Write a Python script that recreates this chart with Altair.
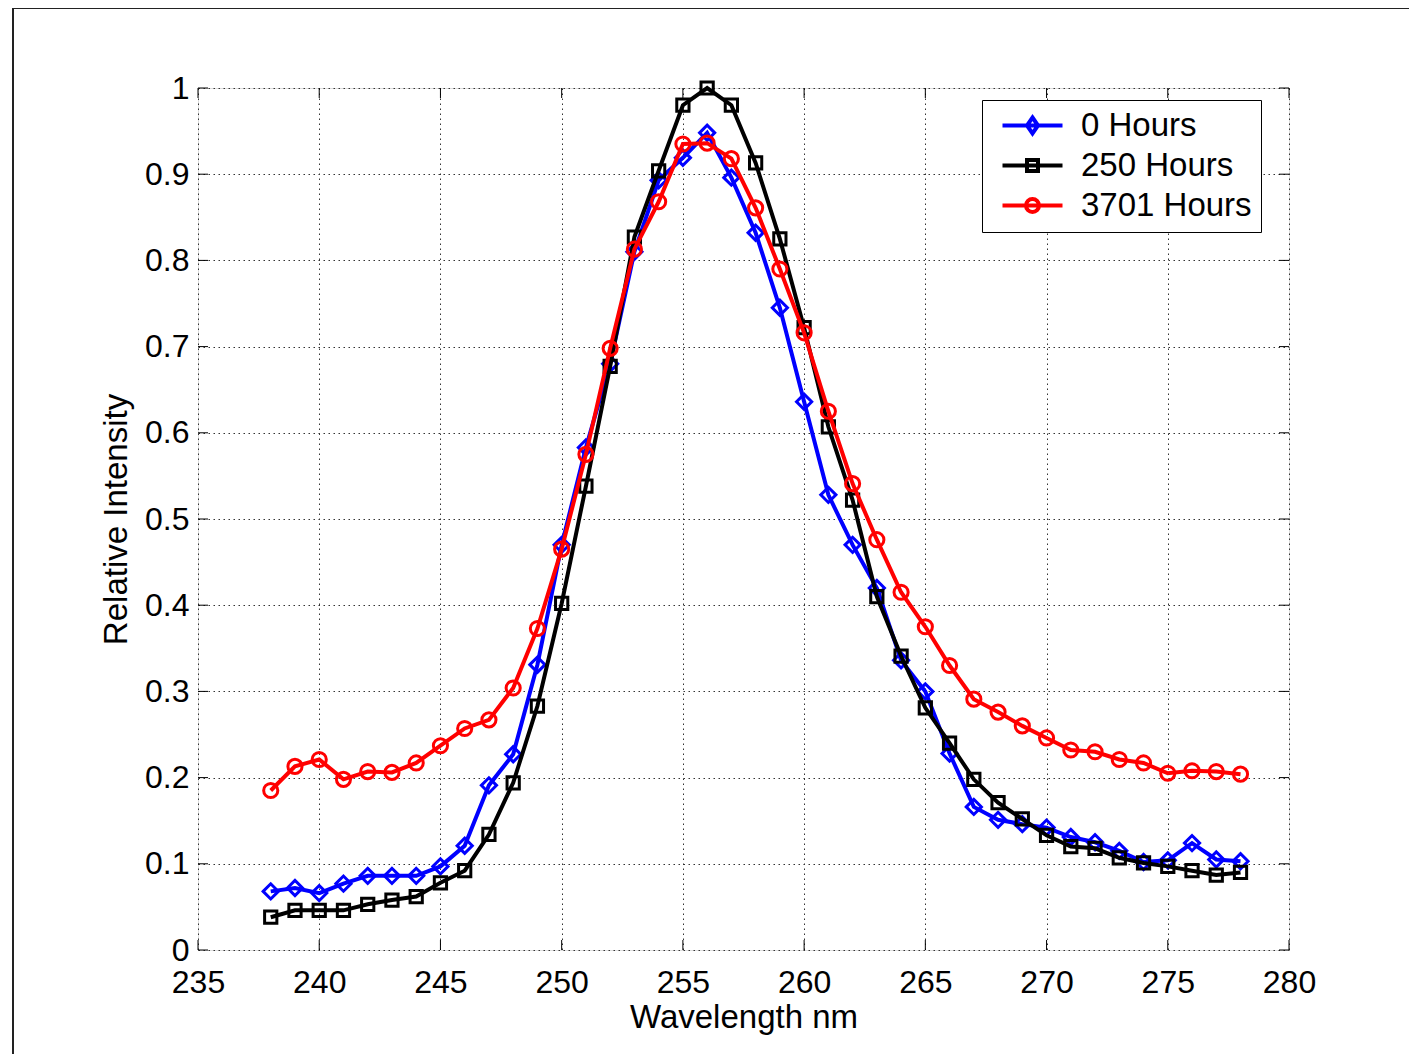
import altair as alt
import pandas as pd

wavelength = [238, 239, 240, 241, 242, 243, 244, 245, 246, 247,
              248, 249, 250, 251, 252, 253, 254, 255, 256, 257,
              258, 259, 260, 261, 262, 263, 264, 265, 266, 267,
              268, 269, 270, 271, 272, 273, 274, 275, 276, 277, 278]

hours_0 = [0.068, 0.072, 0.066, 0.077, 0.086, 0.086, 0.086, 0.097, 0.121, 0.191,
           0.227, 0.331, 0.470, 0.583, 0.680, 0.810, 0.893, 0.919, 0.948, 0.896,
           0.832, 0.745, 0.636, 0.528, 0.470, 0.420, 0.336, 0.300, 0.228, 0.166,
           0.151, 0.146, 0.142, 0.131, 0.125, 0.115, 0.102, 0.104, 0.124, 0.105, 0.103]

hours_250 = [0.038, 0.046, 0.046, 0.046, 0.053, 0.058, 0.062, 0.078, 0.092, 0.134,
             0.194, 0.283, 0.402, 0.538, 0.677, 0.827, 0.904, 0.980, 1.000, 0.980,
             0.913, 0.825, 0.722, 0.607, 0.522, 0.410, 0.341, 0.281, 0.240, 0.198,
             0.171, 0.152, 0.133, 0.120, 0.118, 0.107, 0.101, 0.097, 0.092, 0.087, 0.090]

hours_3701 = [0.185, 0.213, 0.221, 0.198, 0.207, 0.206, 0.217, 0.237, 0.257, 0.267,
              0.304, 0.373, 0.465, 0.575, 0.698, 0.813, 0.868, 0.935, 0.936, 0.918,
              0.861, 0.790, 0.716, 0.625, 0.541, 0.476, 0.415, 0.375, 0.330, 0.291,
              0.276, 0.260, 0.246, 0.232, 0.230, 0.221, 0.217, 0.205, 0.208, 0.207, 0.204]

series_names = ["0 Hours", "250 Hours", "3701 Hours"]
series_colors = ["#0000ff", "#000000", "#ff0000"]
series_shapes = ["diamond", "square", "circle"]
series_sizes = [230, 150, 200]

x_ticks = [235, 240, 245, 250, 255, 260, 265, 270, 275, 280]
y_ticks = [0, 0.1, 0.2, 0.3, 0.4, 0.5, 0.6, 0.7, 0.8, 0.9, 1]

# legend symbols: line with marker (custom SVG paths in unit space)
legend_paths = [
    "M-3,0H3M0,-0.8L0.55,0L0,0.8L-0.55,0Z",
    "M-3,0H3M-0.55,-0.55H0.55V0.55H-0.55Z",
    "M-3,0H3M0.65,0A0.65,0.65,0,1,1,-0.65,0A0.65,0.65,0,1,1,0.65,0Z",
]

W, H = 1091, 862
FONT = "Liberation Sans"

rows = []
for name, vals in zip(series_names, [hours_0, hours_250, hours_3701]):
    for w, v in zip(wavelength, vals):
        rows.append({"wavelength": w, "intensity": v, "series": name})
df = pd.DataFrame(rows)

x_scale = alt.Scale(domain=[235, 280], nice=False, zero=False)
y_scale = alt.Scale(domain=[0, 1], nice=False, zero=False)

x_axis = alt.Axis(values=x_ticks, format="d", title="Wavelength nm", grid=True,
                  gridDash=[1.5, 3.5], gridColor="#333", gridWidth=1,
                  ticks=False, domain=False, labelPadding=17, labelFontSize=32,
                  labelFont=FONT, labelColor="#000", titleFont=FONT, titleFontSize=33,
                  titleFontWeight="normal", titleColor="#000", titleBaseline="alphabetic",
                  titleY=77, titleX=W / 2, labelFlush=False)
y_axis = alt.Axis(values=y_ticks, format=".1~f", title="Relative Intensity", grid=True,
                  gridDash=[1.5, 3.5], gridColor="#333", gridWidth=1,
                  ticks=False, domain=False, labelPadding=9, labelFontSize=32,
                  labelFont=FONT, labelColor="#000", titleFont=FONT, titleFontSize=33,
                  titleFontWeight="normal", titleColor="#000", titleAngle=270,
                  titleBaseline="alphabetic", titleX=-72, titleY=H / 2, titleAlign="center",
                  labelFlush=False)


def X(field):
    return alt.X(field, type="quantitative", scale=x_scale, axis=x_axis)


def Y(field):
    return alt.Y(field, type="quantitative", scale=y_scale, axis=y_axis)


base = alt.Chart(df)

layers = []
for name, col, shp, sz in zip(series_names, series_colors, series_shapes, series_sizes):
    sub = base.transform_filter(alt.datum.series == name)
    layers.append(sub.mark_line(strokeWidth=4, color=col).encode(
        x=X("wavelength"), y=Y("intensity")))
    layers.append(sub.mark_point(shape=shp, size=sz, filled=False, strokeWidth=3, color=col,
                                 opacity=1).encode(x=X("wavelength"), y=Y("intensity")))

# inward ticks (MATLAB style box ticks)
xt = alt.Chart(pd.DataFrame({"wavelength": x_ticks}))
yt = alt.Chart(pd.DataFrame({"intensity": y_ticks}))
for y0, y1 in [(H, H - 10), (0, 10)]:
    layers.append(xt.mark_rule(color="#000", strokeWidth=1).encode(
        x=X("wavelength"), y=alt.value(y0), y2=alt.value(y1)))
for x0, x1 in [(0, 10), (W, W - 10)]:
    layers.append(yt.mark_rule(color="#000", strokeWidth=1).encode(
        y=Y("intensity"), x=alt.value(x0), x2=alt.value(x1)))

# legend carrier layer (no data shown, only the legend)
leg = dict(title=None, orient="none", legendX=784, legendY=12, labelFont=FONT,
           labelFontSize=33, labelColor="#000", strokeColor="#000", fillColor="#fff",
           padding=9, rowPadding=6, symbolOffset=25, labelOffset=32,
           symbolStrokeWidth=4, symbolSize=400, symbolFillColor="transparent",
           symbolOpacity=1, labelLimit=400)
layers.append(base.transform_filter("false").mark_point(
    size=400, filled=False, strokeWidth=4, opacity=1).encode(
    x=X("wavelength"), y=Y("intensity"),
    color=alt.Color("series:N", scale=alt.Scale(domain=series_names, range=series_colors),
                    legend=alt.Legend(**leg)),
    shape=alt.Shape("series:N", scale=alt.Scale(domain=series_names, range=legend_paths),
                    legend=alt.Legend(**leg)),
))

# outer figure frame
layers.append(alt.Chart(alt.Data(values=[{"a": 1}])).mark_rect(
    fill=None, stroke="#222", strokeWidth=2).encode(
    x=alt.value(-185), x2=alt.value(1240), y=alt.value(-80), y2=alt.value(1000)))

chart = alt.layer(*layers).properties(
    width=W, height=H,
    autosize=alt.AutoSizeParams(type="none"),
    padding={"left": 190, "top": 80, "right": 120, "bottom": 104},
).configure_view(stroke="#222", strokeWidth=1).configure(background="#ffffff")

chart.save("out.html", embed_options={"renderer": "svg", "actions": False})
